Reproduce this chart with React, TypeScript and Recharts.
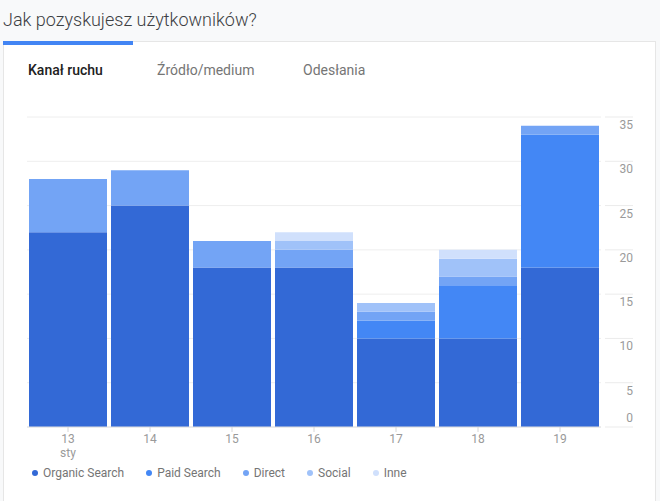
import React from 'react';
import { BarChart, Bar, XAxis, YAxis, CartesianGrid } from 'recharts';

const days = ['13', '14', '15', '16', '17', '18', '19'];
const organicSearch = [22, 25, 18, 18, 10, 10, 18];
const paidSearch = [0, 0, 0, 0, 2, 6, 15];
const direct = [6, 4, 3, 2, 1, 1, 1];
const social = [0, 0, 0, 1, 1, 2, 0];
const inne = [0, 0, 0, 1, 0, 1, 0];
const yTicks = [0, 5, 10, 15, 20, 25, 30, 35];

const series = [
  { key: 'organic', name: 'Organic Search', color: '#3369d6', values: organicSearch },
  { key: 'paid', name: 'Paid Search', color: '#4387f5', values: paidSearch },
  { key: 'direct', name: 'Direct', color: '#73a4f5', values: direct },
  { key: 'social', name: 'Social', color: '#a0c2f9', values: social },
  { key: 'inne', name: 'Inne', color: '#d0e0fc', values: inne },
];

const data = days.map((day, i) => {
  const row: Record<string, string | number> = { day };
  series.forEach((s) => {
    row[s.key] = s.values[i];
  });
  return row;
});

const font = 'Roboto, "Noto Sans", sans-serif';

const XTick = (props: any) => {
  const { x, y, payload, index } = props;
  return (
    <g>
      <text x={x} y={y} dy={10} textAnchor="middle" fill="#9a9a9a" fontSize={12} fontFamily={font}>
        {payload.value}
      </text>
      {index === 0 && (
        <text x={x} y={y} dy={24} textAnchor="middle" fill="#9a9a9a" fontSize={12} fontFamily={font}>
          sty
        </text>
      )}
    </g>
  );
};

const YTick = (props: any) => {
  const { x, y, payload } = props;
  const off = payload.value === 0 ? -9 : 8;
  return (
    <g>
      <line x1={x + 4} x2={x + 32} y1={y} y2={y} stroke="#ebebeb" />
      <text x={x + 32} y={y + off + 4} textAnchor="end" fill="#9a9a9a" fontSize={12} fontFamily={font}>
        {payload.value}
      </text>
    </g>
  );
};

export default function App() {
  return (
    <div style={{ position: 'absolute', left: 0, top: 0, width: 660, height: 501, background: '#f8f9fa', overflow: 'hidden', fontFamily: font }}>
      <div style={{ position: 'absolute', left: 3, top: 9, fontSize: 18, fontWeight: 300, color: '#3c4043' }}>
        Jak pozyskujesz użytkowników?
      </div>
      <div style={{ position: 'absolute', left: 3, top: 41, width: 653, height: 470, background: '#fff', border: '1px solid #e6e6e6', boxSizing: 'border-box' }} />
      <div style={{ position: 'absolute', left: 3, top: 41, width: 130, height: 4, background: '#4285f4' }} />
      <div style={{ position: 'absolute', left: 28, top: 62, fontSize: 14, fontWeight: 500, color: '#212121' }}>Kanał ruchu</div>
      <div style={{ position: 'absolute', left: 157, top: 62, fontSize: 14, color: '#757575' }}>Źródło/medium</div>
      <div style={{ position: 'absolute', left: 303, top: 62, fontSize: 14, color: '#757575' }}>Odesłania</div>

      <div style={{ position: 'absolute', left: 0, top: 100 }}>
        <BarChart width={660} height={372} data={data} margin={{ top: 17, right: 19, bottom: 15, left: 27 }} barCategoryGap={2}>
          <CartesianGrid vertical={false} stroke="#eeeeee" />
          <XAxis
            dataKey="day"
            axisLine={{ stroke: '#e0e0e0' }}
            tickLine={{ stroke: '#d6d6d6' }}
            tickSize={5}
            tickMargin={1}
            height={30}
            interval={0}
            tick={<XTick />}
          />
          <YAxis
            orientation="right"
            domain={[0, 35]}
            ticks={yTicks}
            width={40}
            axisLine={false}
            tickLine={false}
            tickSize={0}
            tickMargin={0}
            tick={<YTick />}
          />
          {series.map((s) => (
            <Bar key={s.key} dataKey={s.key} name={s.name} stackId="a" fill={s.color} isAnimationActive={false} />
          ))}
        </BarChart>
      </div>

      <div style={{ position: 'absolute', left: 32, top: 466, display: 'flex', alignItems: 'center', fontSize: 12, color: '#757575' }}>
        {series.map((s) => (
          <div key={s.key} style={{ display: 'flex', alignItems: 'center', marginRight: 22 }}>
            <span style={{ width: 6, height: 6, borderRadius: 3, background: s.color, marginRight: 5, display: 'inline-block' }} />
            <span>{s.name}</span>
          </div>
        ))}
      </div>
    </div>
  );
}
